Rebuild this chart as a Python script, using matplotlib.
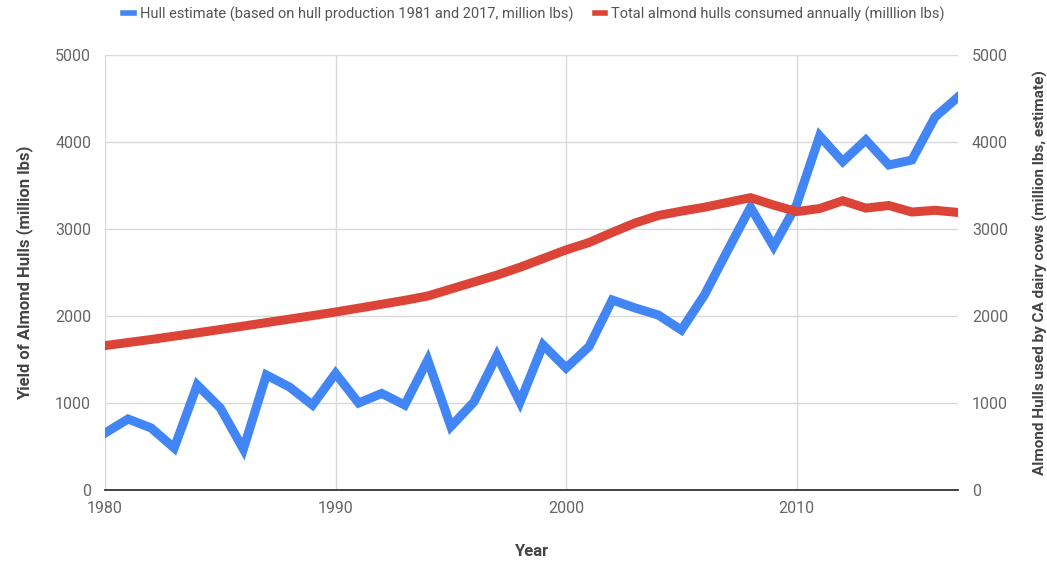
import matplotlib.pyplot as plt
from matplotlib.lines import Line2D

plt.rcParams['font.family'] = ['Roboto', 'DejaVu Sans']

years = list(range(1980, 2018))

hull_estimate = [655, 816, 713, 483, 1207, 943, 470, 1322, 1184, 977,
                 1340, 1000, 1110, 977, 1494, 730, 1011, 1545, 1010, 1667,
                 1402, 1650, 2184, 2092, 2011, 1839, 2241, 2750, 3250, 2800,
                 3280, 4070, 3775, 4023, 3736, 3793, 4285, 4517]

hulls_consumed = [1660, 1695, 1730, 1768, 1806, 1845, 1884, 1924, 1964, 2004,
                  2046, 2090, 2135, 2180, 2230, 2310, 2390, 2470, 2560, 2660,
                  2760, 2845, 2960, 3070, 3155, 3205, 3250, 3305, 3360, 3275,
                  3200, 3235, 3325, 3240, 3270, 3195, 3215, 3190]

blue = '#4285f4'
red = '#db4437'
tick_gray = '#666666'
label_gray = '#444444'

fig = plt.figure(figsize=(10.47, 5.64), dpi=100)
ax = fig.add_axes([0.1003, 0.1312, 0.8147, 0.7713])

ax.plot(years, hull_estimate, color=blue, lw=6.5, solid_joinstyle='miter', zorder=3)
ax.plot(years, hulls_consumed, color=red, lw=6.5, solid_joinstyle='miter', zorder=3)

ax.set_xlim(1980, 2017)
ax.set_ylim(0, 5000)
ax.set_xticks([1980, 1990, 2000, 2010])
ax.set_yticks(range(0, 5001, 1000))
ax.grid(True, color='#d9d9d9', lw=1, zorder=0)
ax.set_axisbelow(True)

for side in ['top', 'right', 'left']:
    ax.spines[side].set_visible(False)
ax.spines['bottom'].set_color('#333333')
ax.spines['bottom'].set_linewidth(1.3)
ax.spines['bottom'].set_zorder(4)

ax.tick_params(axis='both', length=0, labelsize=11.5, labelcolor=tick_gray)
ax.tick_params(axis='y', pad=10)
ax.tick_params(axis='x', pad=8)

ax2 = ax.twinx()
ax2.set_ylim(0, 5000)
ax2.set_yticks(range(0, 5001, 1000))
for side in ['top', 'right', 'left', 'bottom']:
    ax2.spines[side].set_visible(False)
ax2.tick_params(axis='y', length=0, labelsize=11.5, labelcolor=tick_gray, pad=10)

ax.set_xlabel('Year', fontsize=12, fontweight='bold', color=label_gray, labelpad=20)
ax.set_ylabel('Yield of Almond Hulls (million lbs)', fontsize=12,
              fontweight='bold', color=label_gray, labelpad=16)
ax2.set_ylabel('Almond Hulls used by CA dairy cows (million lbs, estimate)',
               fontsize=11, fontweight='bold', color=label_gray,
               rotation=90, labelpad=18)

handles = [Line2D([], [], color=blue, lw=4), Line2D([], [], color=red, lw=4)]
labels = ['Hull estimate (based on hull production 1981 and 2017, million lbs)',
          'Total almond hulls consumed annually (milllion lbs)']
fig.legend(handles, labels, loc='center', bbox_to_anchor=(0.51, 0.975), ncol=2,
           frameon=False, fontsize=10.5, labelcolor='#555555',
           handletextpad=0.4, columnspacing=1.5, handlelength=0.7)

fig.savefig('out.png', dpi=100)
